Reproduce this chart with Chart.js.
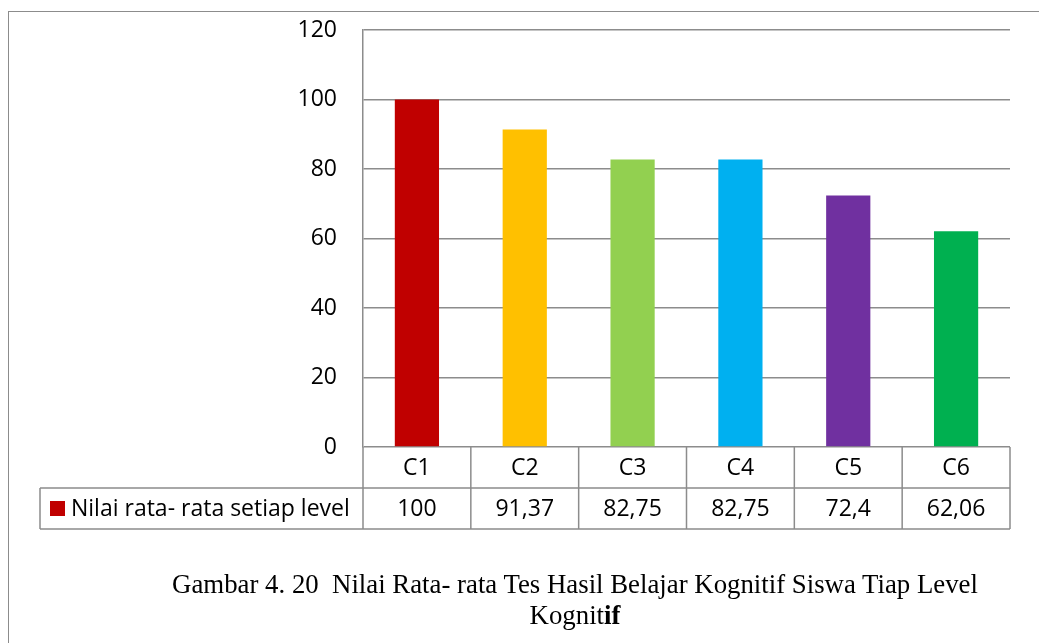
<!DOCTYPE html>
<html>
<head>
<meta charset="utf-8">
<script src="https://cdn.jsdelivr.net/npm/chart.js@4"></script>
<style>
  html, body { margin: 0; padding: 0; background: #fff; overflow: hidden; }
  #wrap { position: relative; width: 1039px; height: 643px; }
  #frame { position: absolute; left: 8px; top: 11px; width: 1100px; height: 640px; border: 1.5px solid #8c8c8c; box-sizing: border-box; }
  canvas { position: absolute; left: 0; top: 0; }
  #caption { position: absolute; left: 0; width: 1150px; top: 569px; text-align: center; font-family: "Liberation Serif", "Times New Roman", serif; font-size: 26.8px; line-height: 31px; color: #000; }
</style>
</head>
<body>
<div id="wrap">
  <div id="frame"></div>
  <canvas id="chart" width="1039" height="643"></canvas>
  <div id="caption">Gambar 4. 20&nbsp; Nilai Rata- rata Tes Hasil Belajar Kognitif Siswa Tiap Level<br>Kognit<b>if</b></div>
</div>
<script>
const levels = ["C1", "C2", "C3", "C4", "C5", "C6"];
const averages = [100, 91.37, 82.75, 82.75, 72.4, 62.06];
const barColors = ["#C00000", "#FFC000", "#92D050", "#00B0F0", "#7030A0", "#00B050"];
const seriesName = "Nilai rata- rata setiap level";

const lineColor = "#8c8c8c";
const font = "'Open Sans', Lato, sans-serif";

// data table drawn under the plot, columns aligned with the category scale
const dataTable = {
  id: "dataTable",
  afterDraw(chart) {
    const { ctx, chartArea, scales } = chart;
    const x = scales.x;
    const colW = (chartArea.right - chartArea.left) / levels.length;
    const rowH = 41;
    const top = chartArea.bottom;
    const mid = top + rowH;
    const bottom = top + rowH * 2;
    const legendLeft = 40;

    ctx.save();
    ctx.strokeStyle = lineColor;
    ctx.lineWidth = 1.5;
    ctx.beginPath();
    // horizontal rules
    ctx.moveTo(legendLeft, mid); ctx.lineTo(chartArea.right, mid);
    ctx.moveTo(legendLeft, bottom); ctx.lineTo(chartArea.right, bottom);
    // legend cell left edge
    ctx.moveTo(legendLeft, mid); ctx.lineTo(legendLeft, bottom);
    // column dividers
    for (let i = 0; i <= levels.length; i++) {
      const px = chartArea.left + i * colW;
      ctx.moveTo(px, top); ctx.lineTo(px, bottom);
    }
    ctx.stroke();

    ctx.fillStyle = "#000";
    ctx.font = "23px " + font;
    ctx.textAlign = "center";
    ctx.textBaseline = "middle";
    levels.forEach((lab, i) => {
      const cx = x.getPixelForValue(i);
      ctx.fillText(lab, cx, (top + mid) / 2 + 1);
      ctx.fillText(String(averages[i]).replace(".", ","), cx, (mid + bottom) / 2 + 1);
    });

    // legend key and series name
    ctx.fillStyle = barColors[0];
    ctx.fillRect(50, 501, 15, 15);
    ctx.fillStyle = "#000";
    ctx.textAlign = "left";
    ctx.fillText(seriesName, 71, (mid + bottom) / 2 + 1);
    ctx.restore();
  }
};

new Chart(document.getElementById("chart"), {
  type: "bar",
  data: {
    labels: levels,
    datasets: [{
      label: seriesName,
      data: averages,
      backgroundColor: barColors,
      categoryPercentage: 1,
      barPercentage: 0.41
    }]
  },
  options: {
    responsive: false,
    animation: false,
    layout: { padding: { left: 0, top: 30, right: 29, bottom: 196 } },
    plugins: { legend: { display: false }, tooltip: { enabled: false } },
    scales: {
      x: { display: false },
      y: {
        min: 0,
        max: 120,
        afterFit(scale) {
          scale.width = 363;
          scale.paddingTop = 0;
          scale.paddingBottom = 0;
        },
        ticks: { stepSize: 20, padding: 26, color: "#000", font: { family: font, size: 23 } },
        grid: { color: lineColor, lineWidth: 1.5, drawTicks: false },
        border: { color: lineColor, width: 1.5 }
      }
    }
  },
  plugins: [dataTable]
});
</script>
</body>
</html>
